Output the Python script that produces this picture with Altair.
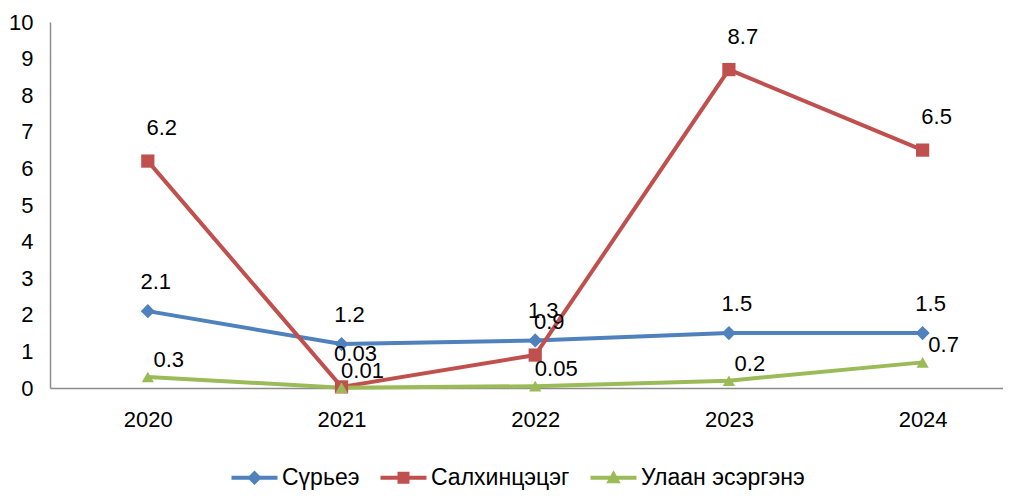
import altair as alt
import pandas as pd

years = [2020, 2021, 2022, 2023, 2024]
series_names = ["Сүрьеэ", "Салхинцэцэг", "Улаан эсэргэнэ"]
tb = [2.1, 1.2, 1.3, 1.5, 1.5]
chickenpox = [6.2, 0.03, 0.9, 8.7, 6.5]
measles = [0.3, 0.01, 0.05, 0.2, 0.7]
labels_tb = ["2.1", "1.2", "1.3", "1.5", "1.5"]
labels_cp = ["6.2", "0.03", "0.9", "8.7", "6.5"]
labels_ms = ["0.3", "0.01", "0.05", "0.2", "0.7"]
y_ticks = list(range(0, 11))

colors = ["#4F81BD", "#C0504D", "#9BBB59"]
FONT = "Liberation Sans"

rows = []
for name, vals, labs in zip(series_names, [tb, chickenpox, measles], [labels_tb, labels_cp, labels_ms]):
    for yr, v, lab in zip(years, vals, labs):
        rows.append({"year": yr, "value": v, "series": name, "label": lab})
df = pd.DataFrame(rows)

x_enc = alt.X("year:Q", scale=alt.Scale(domain=[2019.495, 2024.415], nice=False, zero=False),
              axis=alt.Axis(values=years, format="d", title=None, grid=False, ticks=False, tickSize=0,
                            labelPadding=21, labelFontSize=22, labelFont=FONT, labelColor="#000000",
                            domainColor="#8c8c8c", domainWidth=1.5, labelFlush=False))
y_enc = alt.Y("value:Q", scale=alt.Scale(domain=[0, 10], nice=False),
              axis=alt.Axis(values=y_ticks, title=None, grid=False, ticks=False, tickSize=0,
                            labelPadding=17, labelFontSize=22, labelFont=FONT, labelColor="#000000",
                            domainColor="#8c8c8c", domainWidth=1.5))
color_scale = alt.Scale(domain=series_names, range=colors)

base = alt.Chart(df)

lines = base.mark_line(strokeWidth=4).encode(
    x=x_enc, y=y_enc,
    color=alt.Color("series:N", scale=color_scale, legend=None),
    detail="series:N",
)

points = base.mark_point(filled=True, opacity=1).encode(
    x=x_enc, y=y_enc,
    color=alt.Color("series:N", scale=color_scale, legend=None),
    shape=alt.Shape("series:N", scale=alt.Scale(domain=series_names, range=["diamond", "square", "triangle-up"]), legend=None),
    size=alt.Size("series:N", scale=alt.Scale(domain=series_names, range=[200, 150, 210]), legend=None),
)

legend_paths = [
    "M-1,-0.4H8.2V0.4H-1Z M3.6,-1.45L5.05,0L3.6,1.45L2.15,0Z",
    "M-1,-0.4H8.2V0.4H-1Z M2.4,-1.2H4.8V1.2H2.4Z",
    "M-1,-0.4H8.2V0.4H-1Z M3.6,-1.5L5.05,1.1L2.15,1.1Z",
]
leg = alt.Legend(title=None, orient="none", legendX=175, legendY=444, direction="horizontal",
                 symbolSize=100, symbolStrokeWidth=0, symbolOpacity=1, labelOffset=34, labelLimit=400,
                 labelFontSize=23, labelFont=FONT, labelColor="#000000", columnPadding=14, padding=0)
legend_layer = base.mark_point(filled=True, size=0).encode(
    x=x_enc, y=y_enc,
    color=alt.Color("series:N", scale=color_scale, legend=leg),
    shape=alt.Shape("series:N", scale=alt.Scale(domain=series_names, range=legend_paths), legend=leg),
)

def text_layer(name, dx, dy):
    return base.transform_filter(alt.datum.series == name).mark_text(
        dx=dx, dy=dy, fontSize=22, font=FONT, color="#000000", align="center", baseline="middle"
    ).encode(x=x_enc, y=y_enc, text="label:N")

texts = [
    text_layer(series_names[0], 8, -29),
    text_layer(series_names[1], 14, -33),
    text_layer(series_names[2], 21, -17),
]

chart = alt.layer(lines, points, legend_layer, *texts).resolve_scale(
    color="independent", shape="independent", size="independent"
).properties(
    width=953, height=366,
    autosize=alt.AutoSizeParams(type="none"),
    padding={"left": 42, "top": 14, "right": 0, "bottom": 103},
    background="#ffffff",
).configure_view(stroke=None)

chart.save("out.html", embed_options={"renderer": "svg", "actions": False})
